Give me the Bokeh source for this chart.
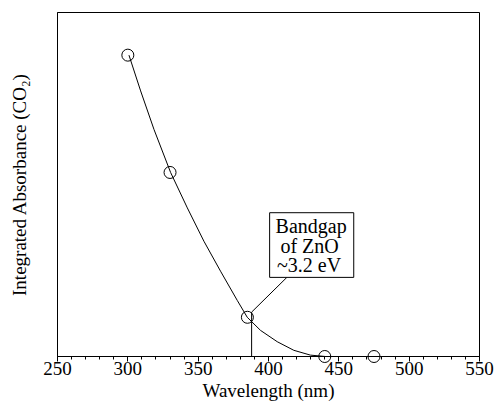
from bokeh.plotting import figure
from bokeh.models import Range1d, FixedTicker, BoxAnnotation, Label
from bokeh.embed import file_html
from bokeh.resources import INLINE

# ---- data ----
wavelength = [300, 330, 385, 440, 475]
absorbance = [0.876, 0.535, 0.114, 0.0, 0.0]

# smooth guide curve
curve_x = [300.8, 309.1, 318.6, 330.4, 342.3, 354.1, 365.9, 377.8, 384.9, 394.3, 406.2, 418.0, 429.8, 440.5]
curve_y = [0.876, 0.772, 0.660, 0.535, 0.432, 0.335, 0.248, 0.163, 0.114, 0.076, 0.043, 0.018, 0.004, 0.0]

x_ticks = [250, 300, 350, 400, 450, 500, 550]
bandgap_nm = 388.0
bandgap_lines = ["Bandgap", " of ZnO", "~3.2 eV"]

FONT = "Liberation Serif"

p = figure(width=497, height=404, output_backend="svg", toolbar_location=None,
           x_range=Range1d(250, 550), y_range=Range1d(0, 1.0),
           min_border_left=57, min_border_right=18, min_border_top=12, min_border_bottom=48)
p.background_fill_color = "white"
p.border_fill_color = "white"
p.outline_line_color = "black"
p.outline_line_width = 1
p.grid.visible = False

# x axis
xa = p.xaxis[0]
xa.ticker = FixedTicker(ticks=x_ticks, minor_ticks=list(range(250, 551, 10)))
xa.axis_label = "Wavelength (nm)"
xa.axis_label_text_font = FONT
xa.axis_label_text_font_style = "normal"
xa.axis_label_text_font_size = "19px"
xa.axis_label_text_color = "black"
xa.axis_label_standoff = 2
xa.major_label_text_font = FONT
xa.major_label_text_font_size = "19px"
xa.major_label_text_color = "black"
xa.major_label_standoff = 0
xa.axis_line_color = "black"
xa.major_tick_line_color = "black"
xa.minor_tick_line_color = "black"
xa.major_tick_in = 0
xa.major_tick_out = 5
xa.minor_tick_in = 0
xa.minor_tick_out = 3

# y axis (label only)
ya = p.yaxis[0]
ya.ticker = FixedTicker(ticks=[])
ya.axis_label = "Integrated Absorbance (CO\u2082)"
ya.axis_label_text_font = FONT
ya.axis_label_text_font_style = "normal"
ya.axis_label_text_font_size = "19px"
ya.axis_label_text_color = "black"
ya.axis_label_standoff = 28
ya.axis_line_color = "black"
ya.major_tick_line_color = None
ya.minor_tick_line_color = None

# curve
p.line(curve_x, curve_y, line_color="black", line_width=1)

# data markers
p.scatter(wavelength, absorbance, marker="circle", size=12, fill_color=None,
          line_color="black", line_width=1, level="overlay")

# bandgap annotation: vertical + leader line
p.line([bandgap_nm, bandgap_nm, 413.3], [0.0, 0.129, 0.231], line_color="black",
       line_width=1, level="overlay")

box = BoxAnnotation(left=400.8, right=460.6, bottom=0.230, top=0.418,
                    fill_color="white", fill_alpha=1.0, line_color="black",
                    line_width=1, line_alpha=1.0, level="overlay")
p.add_layout(box)

for txt, xx, yy in zip(bandgap_lines, [430.3, 431.0, 428.8], [0.378, 0.322, 0.266]):
    p.add_layout(Label(x=xx, y=yy, text=txt, text_align="center", text_baseline="alphabetic",
                       text_font=FONT, text_font_size="20px", text_color="black",
                       level="overlay"))

open("out.html", "w").write(file_html(p, INLINE))
